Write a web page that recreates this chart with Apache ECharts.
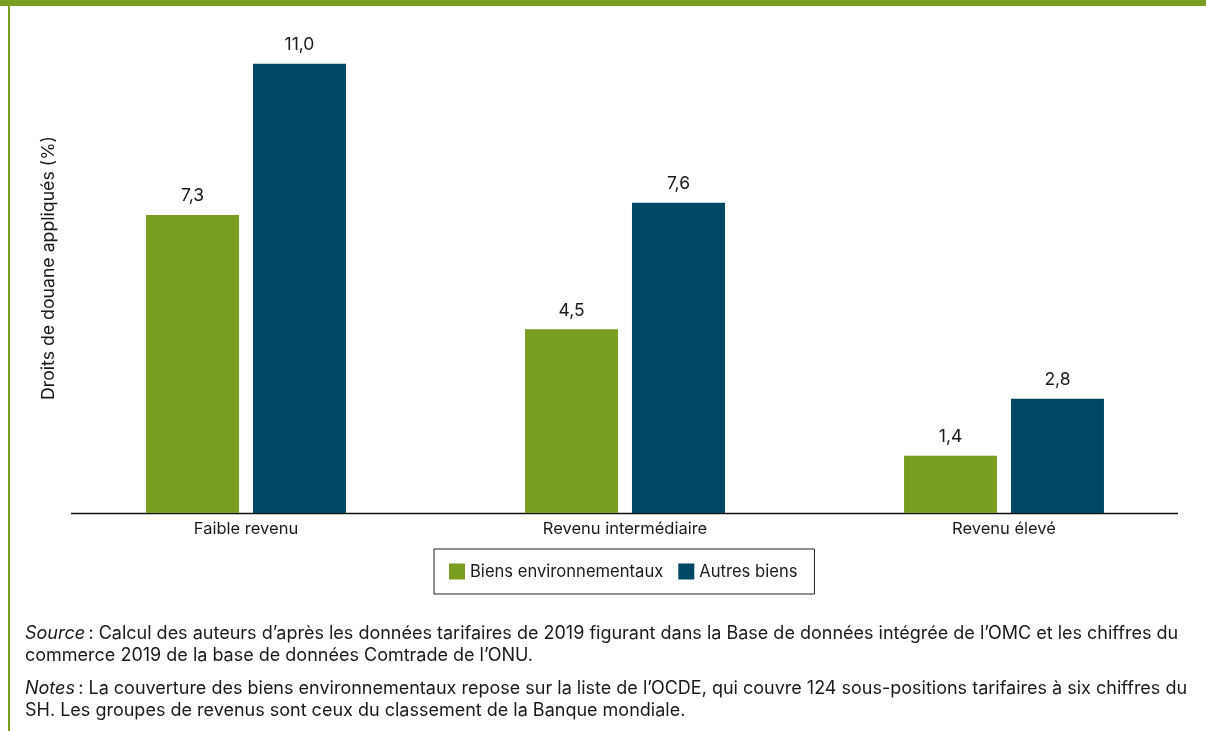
<!DOCTYPE html>
<html><head><meta charset="utf-8">
<script src="https://cdn.jsdelivr.net/npm/echarts@6/dist/echarts.min.js"></script>
<style>html,body{margin:0;padding:0;background:#fff;}#c{width:1206px;height:731px;}</style>
</head><body><div id="c"></div>
<script>
const categories = ['Faible revenu', 'Revenu intermédiaire', 'Revenu élevé'];
const seriesNames = ['Biens environnementaux', 'Autres biens'];
const envGoods = [7.3, 4.5, 1.4];
const otherGoods = [11.0, 7.6, 2.8];
const yAxisTitle = 'Droits de douane appliqués (%)';

const GREEN = '#7a9e1f', BLUE = '#004763', FONT = 'Inter, "Liberation Sans", Arial, sans-serif', TXT = '#1a1a1a';
const chart = echarts.init(document.getElementById('c'));
const fmt = p => p.value.toFixed(1).replace('.', ',');
chart.setOption({
  animation: false,
  textStyle: { fontFamily: FONT },
  grid: { left: 56.5, right: 12.5, top: 23, bottom: 218 },
  xAxis: {
    type: 'category', data: categories,
    axisLine: { show: false }, axisTick: { show: false },
    axisLabel: { color: TXT, fontSize: 16.5, margin: 8, fontFamily: FONT }
  },
  yAxis: {
    type: 'value', min: 0, max: 12,
    axisLine: { show: false }, axisTick: { show: false }, axisLabel: { show: false }, splitLine: { show: false },
    name: yAxisTitle, nameLocation: 'middle', nameRotate: 90, nameGap: -7,
    nameTextStyle: { color: TXT, fontSize: 17.7, fontFamily: FONT, padding: [0, 0, 6, 0] }
  },
  legend: {
    left: 434, top: 549, padding: [14, 17, 14, 15],
    borderColor: '#222', borderWidth: 1, borderRadius: 0,
    itemWidth: 16, itemHeight: 16, itemGap: 15, icon: 'rect',
    textStyle: { color: TXT, fontSize: 16.6, fontFamily: FONT, padding: [0, 0, 0, 0] }
  },
  series: [
    { name: seriesNames[0], type: 'bar', data: envGoods, barWidth: 93, barGap: '15%', itemStyle: { color: GREEN },
      label: { show: true, position: 'top', distance: 10, color: TXT, fontSize: 17.5, fontFamily: FONT, formatter: fmt } },
    { name: seriesNames[1], type: 'bar', data: otherGoods, barWidth: 93, barGap: '15%', itemStyle: { color: BLUE },
      label: { show: true, position: 'top', distance: 10, color: TXT, fontSize: 17.5, fontFamily: FONT, formatter: fmt } }
  ],
  graphic: [
    { type: 'rect', shape: { x: 0, y: 0, width: 1206, height: 6 }, style: { fill: GREEN }, silent: true },
    { type: 'rect', shape: { x: 8, y: 0, width: 2, height: 731 }, style: { fill: GREEN }, silent: true },
    { type: 'line', shape: { x1: 71, y1: 513.5, x2: 1178, y2: 513.5 }, style: { stroke: '#111', lineWidth: 1.3 }, silent: true },
    { type: 'text', left: 25, top: 623, style: {
      text: '{i|Source}\u2009: Calcul des auteurs d\u2019après les données tarifaires de 2019 figurant dans la Base de données intégrée de l\u2019OMC et les chiffres du\ncommerce 2019 de la base de données Comtrade de l\u2019ONU.',
      font: '18px ' + FONT, fill: TXT, lineHeight: 22,
      rich: { i: { fontStyle: 'italic', fontSize: 18, fontFamily: FONT, fill: TXT, lineHeight: 22 } } } },
    { type: 'text', left: 25, top: 678, style: {
      text: '{i|Notes}\u2009: La couverture des biens environnementaux repose sur la liste de l\u2019OCDE, qui couvre 124 sous-positions tarifaires à six chiffres du\nSH. Les groupes de revenus sont ceux du classement de la Banque mondiale.',
      font: '18px ' + FONT, fill: TXT, lineHeight: 22,
      rich: { i: { fontStyle: 'italic', fontSize: 18, fontFamily: FONT, fill: TXT, lineHeight: 22 } } } }
  ]
});
</script></body></html>
